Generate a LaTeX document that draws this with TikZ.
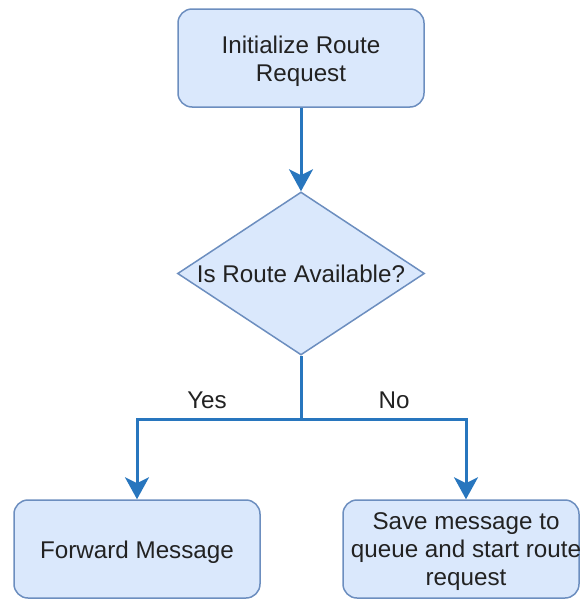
\documentclass[tikz,border=0pt]{standalone}
\usepackage{fontspec}
\setmainfont{Liberation Sans}
\usetikzlibrary{shapes.geometric,arrows.meta}
\definecolor{boxfill}{HTML}{DAE8FC}
\definecolor{boxline}{HTML}{6C8EBF}
\definecolor{arrowblue}{RGB}{40,118,190}
\definecolor{txt}{HTML}{222222}
\begin{document}
\begin{tikzpicture}[x=0.5pt,y=-0.5pt,
  every node/.style={font=\fontsize{12.1}{14}\selectfont, text=txt},
  procbox/.style={draw=boxline, fill=boxfill, line width=0.75pt, rounded corners=7pt,
    minimum height=49pt, inner sep=0pt, align=center},
  decbox/.style={diamond, draw=boxline, fill=boxfill, line width=0.75pt,
    minimum width=123.5pt, minimum height=81.5pt, inner sep=0pt},
  arr/.style={draw=arrowblue, line width=1.5pt,
    -{Stealth[length=11pt,width=12pt,inset=3pt]}},
  lbl/.style={inner sep=0pt, align=center}]
\useasboundingbox (0,0) rectangle (580,600);
\node[procbox, minimum width=123pt] (init) at (301,58) {};
\node[lbl] (inittext) at ([yshift=-1.5pt]init.center) {Initialize Route\\Request};
\node[decbox] (dec) at (301,273.5) {};
\node[lbl] (dectext) at (dec.center) {Is Route Available?};
\node[procbox, minimum width=123pt] (fwd) at (137,549) {};
\node[lbl] (fwdtext) at ([yshift=-1.5pt]fwd.center) {Forward Message};
\node[procbox, minimum width=118pt] (save) at (461,549) {};
\node[lbl] (savetext) at ([xshift=2.5pt,yshift=-1.5pt]save.center) {Save message to\\queue and start route\\request};
\coordinate (split) at (301,419);
\node[lbl] (yes) at (207,400) {Yes};
\node[lbl] (no) at (394,400) {No};
\draw[arr] (init.south) -- (dec.north);
\draw[draw=arrowblue, line width=1.5pt] (dec.south) -- (split);
\draw[arr] (split) -| (fwd.north);
\draw[arr] (split) -| ([xshift=2.5pt]save.north);
\end{tikzpicture}
\end{document}
